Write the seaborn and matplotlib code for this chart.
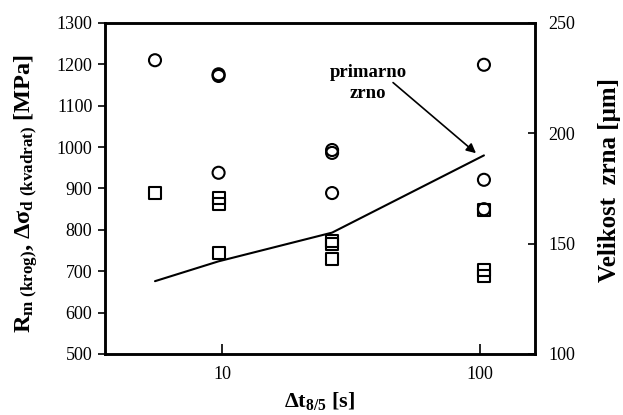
import matplotlib
matplotlib.use('Agg')
import matplotlib.pyplot as plt
import seaborn as sns
import pandas as pd

# Rm (krog) - circles
x_krog = [5.5, 9.7, 9.7, 9.7, 26.7, 26.7, 26.7, 103.5, 103.5, 103.5]
rm_krog = [1210, 1176, 1172, 938, 993, 986, 889, 1199, 921, 850]
# delta sigma_d (kvadrat) - squares
x_kvadrat = [5.5, 9.7, 9.7, 9.7, 26.7, 26.7, 26.7, 103.5, 103.5, 103.5]
sd_kvadrat = [889, 877, 862, 744, 773, 765, 730, 848, 703, 688]
# primarno zrno (right axis)
x_zrno = [5.5, 9.7, 26.7, 103.5]
zrno = [133, 142, 155, 190]

sns.set_style("white")
plt.rcParams['font.family'] = ['Liberation Serif', 'DejaVu Serif']
plt.rcParams['mathtext.fontset'] = 'custom'
plt.rcParams['mathtext.rm'] = 'Liberation Serif:bold'
plt.rcParams['mathtext.bf'] = 'Liberation Serif:bold'
plt.rcParams['mathtext.it'] = 'Liberation Serif:bold'
for k in ['text.color', 'axes.labelcolor', 'xtick.color', 'ytick.color']:
    plt.rcParams[k] = 'black'

fig = plt.figure(figsize=(6.23, 4.15), dpi=100)
ax = fig.add_axes([0.1685, 0.147, 0.690, 0.7976])

df_k = pd.DataFrame({"x": x_krog, "y": rm_krog})
df_s = pd.DataFrame({"x": x_kvadrat, "y": sd_kvadrat})
sns.scatterplot(data=df_k, x="x", y="y", marker="o", s=75, facecolor="none",
                edgecolor="black", linewidth=1.5, ax=ax, zorder=3)
sns.scatterplot(data=df_s, x="x", y="y", marker="s", s=75, facecolor="none",
                edgecolor="black", linewidth=1.5, ax=ax, zorder=3)

ax.set_xscale("log")
ax.set_xlim(3.52, 163)
ax.set_ylim(500, 1300)
ax.set_yticks(range(500, 1301, 100))
ax.set_xticks([10, 100])
ax.set_xticklabels(["10", "100"])
ax.minorticks_off()
ax.tick_params(axis="y", direction="out", length=5, width=1.2, labelsize=13, left=True, pad=4)
ax.tick_params(axis="x", direction="in", length=7, width=1.2, labelsize=13, bottom=True, pad=9)
for sp in ax.spines.values():
    sp.set_linewidth(1.8)
    sp.set_color("black")

ax.set_xlabel(r"$\Delta t_{8/5}$ [s]", fontsize=16, fontweight="bold", labelpad=5)
ax.set_ylabel(r"R$_{m\ (krog)}$, $\Delta\sigma_{d\ (kvadrat)}$ [MPa]",
              fontsize=17.5, fontweight="bold")
ax.yaxis.set_label_coords(-0.152, 0.485)

ax2 = ax.twinx()
df_z = pd.DataFrame({"x": x_zrno, "y": zrno})
sns.lineplot(data=df_z, x="x", y="y", color="black", linewidth=1.5, ax=ax2)
ax2.set_ylim(100, 250)
ax2.set_yticks([100, 150, 200, 250])
ax2.minorticks_off()
ax2.tick_params(axis="y", direction="in", length=5, width=1.2, labelsize=13, right=True, pad=10)
ax2.set_ylabel("Velikost  zrna [μm]", fontsize=18, fontweight="bold")
ax2.yaxis.set_label_coords(1.148, 0.525)
for sp in ax2.spines.values():
    sp.set_linewidth(1.8)
    sp.set_color("black")

ax2.text(36.8, 223, "primarno\nzrno", fontsize=13.5, fontweight="bold",
         ha="center", va="center", linespacing=1.3)
ax2.annotate("", xy=(96.4, 191), xytext=(46, 223),
             arrowprops=dict(arrowstyle="-|>", color="black", lw=1.2,
                             shrinkA=0, shrinkB=0, mutation_scale=14))

fig.savefig("out.png", dpi=100)
